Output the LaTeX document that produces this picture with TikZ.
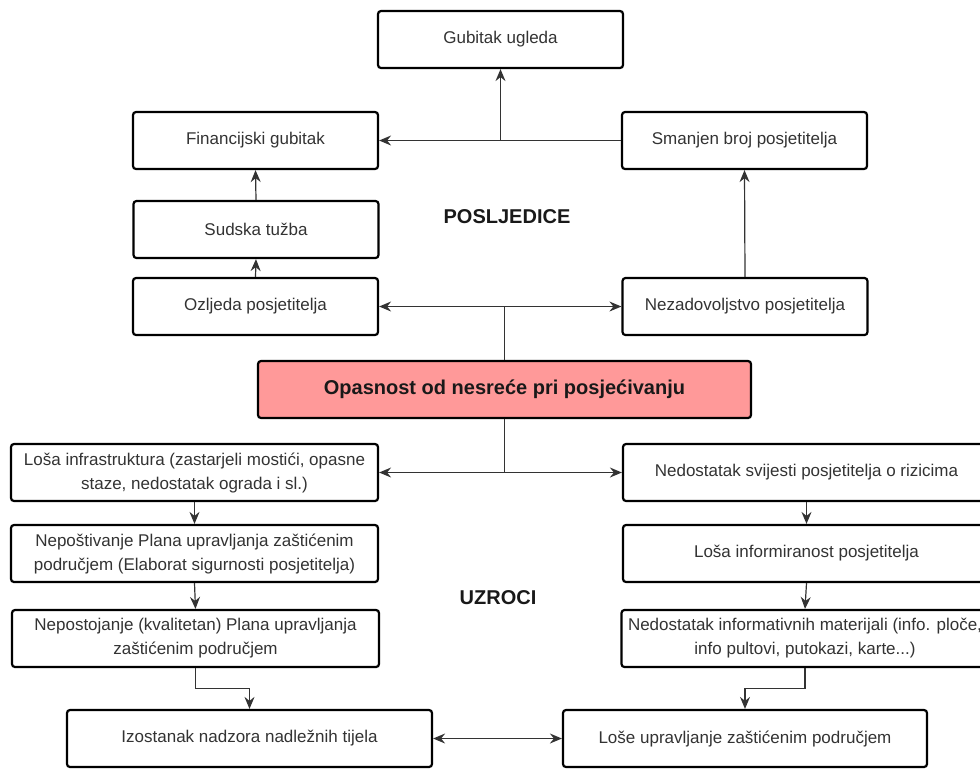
\documentclass[tikz,border=0pt]{standalone}
\usepackage{fontspec}
\setmainfont{Liberation Sans}
\usepackage{xcolor}
\usepackage{tikz}
\usetikzlibrary{arrows.meta,calc}

\definecolor{riskred}{HTML}{FF9999}
\definecolor{txtgray}{HTML}{333333}

\begin{document}
\begin{tikzpicture}[x=0.5pt, y=-0.5pt,
  box/.style={draw, line width=1.1pt, rounded corners=1.5pt, fill=white,
    minimum height=28.5pt, inner sep=2pt, align=center, text=txtgray,
    font=\fontsize{8.5}{12}\selectfont},
  small/.style={box, minimum width=122.5pt},
  wide/.style={box, minimum width=183.5pt},
  title/.style={font=\fontsize{10}{12}\selectfont\bfseries, text=black!90},
  tip/.style={Stealth[length=6pt, width=5pt, inset=2pt]},
  arr/.style={line width=0.6pt, draw=txtgray, -{Stealth[length=6pt, width=5pt, inset=2pt]}},
  arrs/.style={arr, {Stealth[length=6pt, width=5pt, inset=2pt]}-{Stealth[length=6pt, width=5pt, inset=2pt]}}]
\useasboundingbox (0,0) rectangle (980,768);

% Posljedice
\node[small] (ugled) at (500.5,39.5) {Gubitak ugleda};
\node[small] (fin) at (255.5,140.5) {Financijski gubitak};
\node[small] (broj) at (744.5,140.5) {Smanjen broj posjetitelja};
\node[small] (tuzba) at (256,229.5) {Sudska tužba};
\node[small] (ozlj) at (255.5,306.5) {Ozljeda posjetitelja};
\node[small] (nezad) at (745,306.5) {Nezadovoljstvo posjetitelja};
\node[title] (posl) at (507,217) {POSLJEDICE};

% Glavni rizik
\node[box, fill=riskred, minimum width=246.5pt, text=black!90,
  font=\fontsize{10}{12}\selectfont\bfseries] (rizik) at (504.5,389.5)
  {Opasnost od nesreće pri posjećivanju};

% Uzroci
\node[wide] (infra) at (194.5,472.5) {Loša infrastruktura (zastarjeli mostići, opasne\\ staze, nedostatak ograda i sl.)};
\node[wide] (plan) at (194.5,553.5) {Nepoštivanje Plana upravljanja zaštićenim\\ područjem (Elaborat sigurnosti posjetitelja)};
\node[wide] (nepl) at (195.5,638.5) {Nepostojanje (kvalitetan) Plana upravljanja\\ zaštićenim područjem};
\node[wide, minimum width=182.5pt] (nadz) at (249.5,738.5) {Izostanak nadzora nadležnih tijela};
\node[wide] (svij) at (806.5,472.5) {Nedostatak svijesti posjetitelja o rizicima};
\node[wide] (info) at (806.5,553.5) {Loša informiranost posjetitelja};
\node[wide] (mat) at (805,638.5) {Nedostatak informativnih materijali (info. ploče,\\ info pultovi, putokazi, karte...)};
\node[wide, minimum width=182pt] (uprav) at (745,738.5) {Loše upravljanje zaštićenim područjem};
\node[title] (uzr) at (498,598) {UZROCI};

% Veze
\draw[arr] (broj.west) -- (fin.east);
\draw[arr] (ugled.south |- fin.east) -- (ugled.south);
\draw[arr] (tuzba.north) -- (fin.south);
\draw[arr] (ozlj.north) -- (tuzba.south);
\draw[arr] (nezad.north) -- (broj.south);
\draw[arr] (rizik.north) |- (ozlj.east);
\draw[arr] (rizik.north) |- (nezad.west);
\draw[arr] (rizik.south) |- (infra.east);
\draw[arr] (rizik.south) |- (svij.west);
\draw[arr] (infra.south) -- (plan.north);
\draw[arr] (plan.south) -- (nepl.north);
\draw[arr] (nepl.south) |- ($(nepl.south)!.5!(nadz.north)$) -| (nadz.north);
\draw[arr] (svij.south) -- (info.north);
\draw[arr] (info.south) -- (mat.north);
\draw[arr] (mat.south) |- ($(mat.south)!.5!(uprav.north)$) -| (uprav.north);
\draw[arrs] (nadz.east) -- (uprav.west);
\end{tikzpicture}
\end{document}
